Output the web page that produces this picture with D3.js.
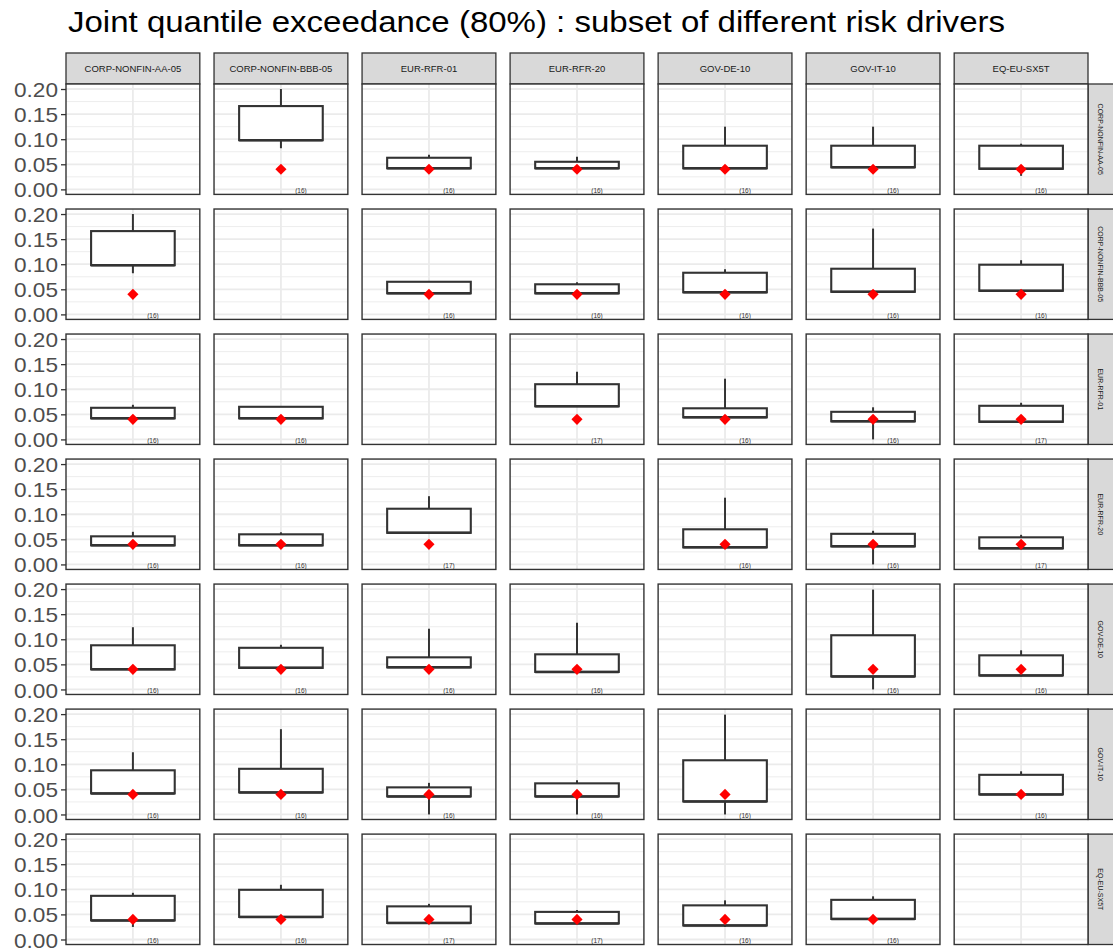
<!DOCTYPE html>
<html>
<head>
<meta charset="utf-8">
<script src="https://cdn.jsdelivr.net/npm/d3@7"></script>
<style>
  body { margin: 0; background: #fff; }
  svg { display: block; font-family: "Liberation Sans", Arial, sans-serif; }
</style>
</head>
<body>
<div id="chart"></div>
<script>
// risk drivers used for both the facet columns and the facet rows
const drivers = ['CORP-NONFIN-AA-05', 'CORP-NONFIN-BBB-05', 'EUR-RFR-01', 'EUR-RFR-20', 'GOV-DE-10', 'GOV-IT-10', 'EQ-EU-SX5T'];
const yTicks = [0, 0.05, 0.10, 0.15, 0.20];
const yMinor = [0.025, 0.075, 0.125, 0.175];
const refValue = 0.04; // red diamond

// box statistics, rows = facet rows, cols = facet columns (null on the diagonal)
const whiskerLow = [
  [null, 0.082, 0.042, 0.042, 0.042, 0.044, 0.027],
  [0.082, null, 0.042, 0.042, 0.044, 0.045, 0.047],
  [0.042, 0.042, null, 0.066, 0.043, 0.000, 0.035],
  [0.038, 0.038, 0.063, null, 0.034, 0.000, 0.032],
  [0.040, 0.043, 0.044, 0.035, null, 0.000, 0.026],
  [0.042, 0.044, 0.000, 0.000, 0.000, null, 0.040],
  [0.025, 0.045, 0.033, 0.032, 0.025, 0.041, null]
];
const boxLow = [
  [null, 0.098, 0.042, 0.042, 0.042, 0.044, 0.041],
  [0.098, null, 0.042, 0.042, 0.044, 0.045, 0.047],
  [0.042, 0.042, null, 0.066, 0.044, 0.036, 0.035],
  [0.038, 0.038, 0.063, null, 0.034, 0.036, 0.032],
  [0.040, 0.043, 0.044, 0.035, null, 0.026, 0.028],
  [0.042, 0.044, 0.036, 0.036, 0.026, null, 0.040],
  [0.038, 0.045, 0.033, 0.032, 0.028, 0.041, null]
];
const boxHigh = [
  [null, 0.166, 0.063, 0.055, 0.087, 0.087, 0.087],
  [0.166, null, 0.065, 0.060, 0.083, 0.091, 0.099],
  [0.063, 0.065, null, 0.110, 0.062, 0.055, 0.067],
  [0.056, 0.060, 0.111, null, 0.070, 0.061, 0.054],
  [0.088, 0.083, 0.064, 0.070, null, 0.108, 0.068],
  [0.088, 0.091, 0.054, 0.062, 0.108, null, 0.079],
  [0.087, 0.099, 0.066, 0.055, 0.068, 0.079, null]
];
const whiskerHigh = [
  [null, 0.200, 0.069, 0.065, 0.125, 0.125, 0.091],
  [0.200, null, 0.065, 0.064, 0.090, 0.171, 0.108],
  [0.069, 0.065, null, 0.135, 0.121, 0.064, 0.073],
  [0.065, 0.064, 0.136, null, 0.133, 0.067, 0.059],
  [0.124, 0.089, 0.121, 0.133, null, 0.199, 0.078],
  [0.124, 0.170, 0.063, 0.068, 0.199, null, 0.086],
  [0.093, 0.109, 0.071, 0.059, 0.078, 0.086, null]
];
const counts = [
  [null, 16, 16, 16, 16, 16, 16],
  [16, null, 16, 16, 16, 16, 16],
  [16, 16, null, 17, 16, 16, 17],
  [16, 16, 17, null, 16, 16, 17],
  [16, 16, 16, 16, null, 16, 16],
  [16, 16, 16, 16, 16, null, 16],
  [16, 16, 17, 17, 16, 16, null]
];

const W = 1113, H = 950;
const svg = d3.select('#chart').append('svg')
  .attr('width', W)
  .attr('height', H);

// title (reference is a little stretched sideways)
svg.append('text')
  .attr('x', 68)
  .attr('y', 32)
  .style('font-size', '29px')
  .attr('textLength', 937)
  .attr('lengthAdjust', 'spacingAndGlyphs')
  .attr('fill', '#000')
  .text('Joint quantile exceedance (80%) : subset of different risk drivers');

// facet positions
const colScale = d3.scaleBand().domain(drivers).range([66, 1088]).paddingInner(0.096);
const rowScale = d3.scaleBand().domain(drivers).range([84, 944.5]).paddingInner(0.117);
const pw = colScale.bandwidth();
const ph = rowScale.bandwidth();

// top strips
drivers.forEach(d => {
  const x0 = colScale(d);
  svg.append('rect')
    .attr('x', x0).attr('y', 53)
    .attr('width', pw).attr('height', 31)
    .attr('fill', '#d9d9d9')
    .attr('stroke', '#333').attr('stroke-width', 1.3);
  svg.append('text')
    .attr('x', x0 + pw / 2).attr('y', 72)
    .attr('text-anchor', 'middle')
    .style('font-size', '9.5px')
    .attr('fill', '#1a1a1a')
    .text(d);
});

// right strips
drivers.forEach(d => {
  const y0 = rowScale(d);
  svg.append('rect')
    .attr('x', 1088).attr('y', y0)
    .attr('width', 30).attr('height', ph)
    .attr('fill', '#d9d9d9')
    .attr('stroke', '#333').attr('stroke-width', 1.3);
  svg.append('text')
    .attr('transform', `translate(${1098}, ${y0 + ph / 2}) rotate(90)`)
    .attr('text-anchor', 'middle')
    .style('font-size', '7px')
    .attr('fill', '#1a1a1a')
    .text(d);
});

drivers.forEach((rowName, ri) => {
  const y0 = rowScale(rowName);
  const y = d3.scaleLinear().domain([-0.01, 0.21]).range([y0 + ph, y0]);

  // y axis on the first column only
  const axis = svg.append('g')
    .attr('transform', `translate(${colScale(drivers[0])}, 0)`)
    .call(d3.axisLeft(y).tickValues(yTicks).tickFormat(d3.format('.2f')).tickSize(5).tickPadding(3));
  axis.select('.domain').remove();
  axis.selectAll('line').attr('stroke', '#333').attr('stroke-width', 1.3);
  axis.selectAll('text')
    .attr('fill', '#4d4d4d')
    .style('font-size', '21px')
    .style('font-family', '"Liberation Sans", Arial, sans-serif')
    .attr('textLength', 44)
    .attr('lengthAdjust', 'spacingAndGlyphs')
    .attr('dy', '0.36em');

  drivers.forEach((colName, ci) => {
    const x0 = colScale(colName);
    const x = d3.scaleLinear().domain([0.4, 1.6]).range([x0, x0 + pw]);
    const g = svg.append('g');

    // background + grid
    g.append('rect')
      .attr('x', x0).attr('y', y0).attr('width', pw).attr('height', ph)
      .attr('fill', '#fff');
    g.selectAll('.minor').data(yMinor).enter().append('line')
      .attr('x1', x0).attr('x2', x0 + pw)
      .attr('y1', d => y(d)).attr('y2', d => y(d))
      .attr('stroke', '#ebebeb').attr('stroke-width', 0.9);
    g.selectAll('.major').data(yTicks).enter().append('line')
      .attr('x1', x0).attr('x2', x0 + pw)
      .attr('y1', d => y(d)).attr('y2', d => y(d))
      .attr('stroke', '#ebebeb').attr('stroke-width', 1.8);
    g.append('line')
      .attr('x1', x(1)).attr('x2', x(1))
      .attr('y1', y0).attr('y2', y0 + ph)
      .attr('stroke', '#ebebeb').attr('stroke-width', 1.8);

    if (boxLow[ri][ci] !== null) {
      const lo = whiskerLow[ri][ci], q1 = boxLow[ri][ci], q3 = boxHigh[ri][ci], hi = whiskerHigh[ri][ci];
      // whiskers
      g.append('line')
        .attr('x1', x(1)).attr('x2', x(1))
        .attr('y1', y(q3)).attr('y2', y(hi))
        .attr('stroke', '#333').attr('stroke-width', 2);
      g.append('line')
        .attr('x1', x(1)).attr('x2', x(1))
        .attr('y1', y(q1)).attr('y2', y(lo))
        .attr('stroke', '#333').attr('stroke-width', 2);
      // box
      g.append('rect')
        .attr('x', x(0.625)).attr('width', x(1.375) - x(0.625))
        .attr('y', y(q3)).attr('height', y(q1) - y(q3))
        .attr('fill', '#fff')
        .attr('stroke', '#333').attr('stroke-width', 2.1);
      // median sits on the lower hinge
      g.append('line')
        .attr('x1', x(0.625)).attr('x2', x(1.375))
        .attr('y1', y(q1)).attr('y2', y(q1))
        .attr('stroke', '#333').attr('stroke-width', 2.5);
      // red diamond
      g.append('path')
        .attr('d', d3.symbol().type(d3.symbolSquare).size(62)())
        .attr('transform', `translate(${x(1)}, ${y(refValue)}) rotate(45)`)
        .attr('fill', '#ff0000');
      // count label
      g.append('text')
        .attr('x', x(1) + 20).attr('y', y(0) + 3.5)
        .attr('text-anchor', 'middle')
        .style('font-size', '6.5px')
        .attr('fill', '#333')
        .text('(' + counts[ri][ci] + ')');
    }

    // panel border
    g.append('rect')
      .attr('x', x0).attr('y', y0).attr('width', pw).attr('height', ph)
      .attr('fill', 'none')
      .attr('stroke', '#333').attr('stroke-width', 1.4);
  });
});
</script>
</body>
</html>
